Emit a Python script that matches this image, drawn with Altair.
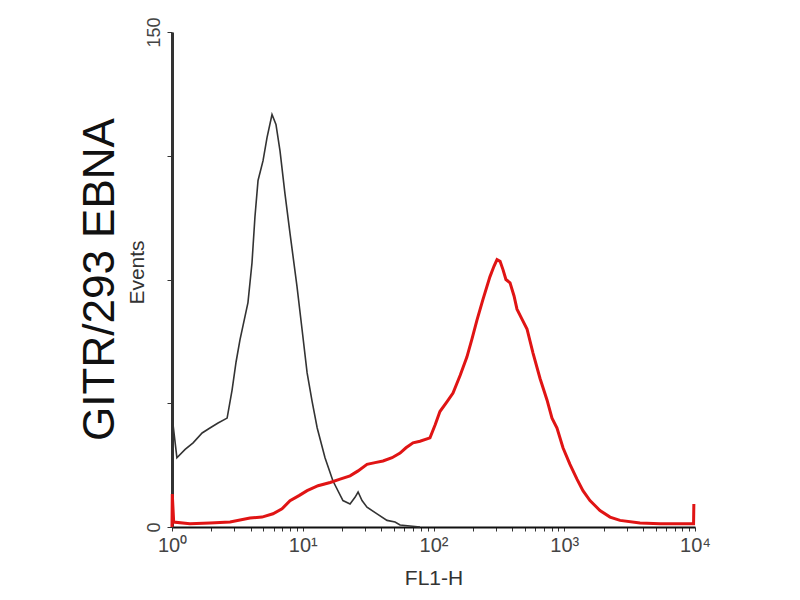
import altair as alt
import pandas as pd

# Black (control) histogram: FL1-H value, events
black_x = [1.0, 1.005, 1.09, 1.26, 1.45, 1.70, 1.95, 2.25, 2.64, 2.88, 3.09, 3.31, 3.81, 4.09,
           4.31, 4.55, 4.97, 5.33, 5.82, 6.24, 6.70, 7.31, 7.99, 9.03, 9.87, 10.8, 11.8, 12.9,
           14.8, 17.0, 20.3, 23.0, 25.1, 26.5, 28.4, 31.0, 37.0, 44.1, 50.8, 55.5, 66.1, 78.8]
black_y = [0, 33, 21, 23.5, 25.5, 28.5, 30, 31.5, 33, 41.5, 50, 56.7, 68, 80,
           94, 105, 111, 118, 125, 122, 114, 101, 89, 73, 60, 46.7, 38, 30,
           21, 14, 8, 7, 9, 10.6, 8, 6, 4, 2, 1.5, 0.6, 0.3, 0]

# Red (GITR stained) histogram
red_x = [1.0, 1.005, 1.03, 1.37, 1.95, 2.78, 3.95, 4.88, 5.92, 6.94, 7.99, 9.36, 10.8, 13.1,
         16.2, 19.3, 23.0, 26.5, 31.0, 35.7, 41.1, 48.2, 55.5, 61.6, 69.7, 78.8, 94.0, 103,
         112, 127, 141, 160, 180, 197, 215, 239, 270, 290, 306, 323, 340, 358, 385, 413, 435,
         475, 519, 577, 653, 738, 806, 880, 978, 1106, 1251, 1390, 1573, 1876, 2240, 2670,
         3795, 5400, 7680, 9750, 9800]
red_y = [0, 10, 1.5, 1.0, 1.2, 1.5, 2.7, 3, 4, 5.5, 8, 9.5, 11, 12.5,
         13.5, 14.5, 15.5, 17, 19, 19.5, 20, 21, 22.4, 24, 25.5, 26, 27, 31,
         35, 38, 40.6, 46, 51.5, 57, 62.7, 69, 75.8, 79, 81, 80.5, 78, 75, 74, 70, 66,
         63, 60, 52.7, 45, 38.5, 33, 30, 24, 19, 14.5, 11, 8, 5, 3, 2,
         1.2, 1, 1, 1, 7]

x_ticks = [1, 2, 3, 4, 5, 6, 7, 8, 9, 10, 20, 30, 40, 50, 60, 70, 80, 90, 100,
           200, 300, 400, 500, 600, 700, 800, 900, 1000, 2000, 3000, 4000, 5000,
           6000, 7000, 8000, 9000, 10000]
y_ticks = [0, 37.5, 75, 112.5, 150]

rows = []
for i, (x, y) in enumerate(zip(black_x, black_y)):
    rows.append({"x": x, "y": y, "series": "control", "order": i})
for i, (x, y) in enumerate(zip(red_x, red_y)):
    rows.append({"x": x, "y": y, "series": "GITR", "order": i})
df = pd.DataFrame(rows)

FONT = "Liberation Sans"

x_label_expr = ("datum.value == 1 ? '10⁰' : datum.value == 10 ? '10¹' : "
                "datum.value == 100 ? '10²' : datum.value == 1000 ? '10³' : "
                "datum.value == 10000 ? '10⁴' : ''")

chart = alt.Chart(df).mark_line(interpolate="linear").encode(
    x=alt.X("x:Q",
            scale=alt.Scale(type="log", domain=[1, 10000], nice=False),
            axis=alt.Axis(values=x_ticks, labelExpr=x_label_expr, title="FL1-H",
                          grid=False, domainColor="#111", domainWidth=2,
                          tickColor="#333", tickSize=4, labelFontSize=20,
                          labelColor="#444", labelFont=FONT, labelPadding=4,
                          titleFont=FONT, titleFontSize=21, titleFontWeight="normal",
                          titleColor="#333", titlePadding=12, labelFlush=False)),
    y=alt.Y("y:Q",
            scale=alt.Scale(domain=[0, 150], nice=False),
            axis=alt.Axis(values=y_ticks,
                          labelExpr="datum.value == 0 || datum.value == 150 ? datum.label : ''",
                          title="Events", grid=False, domainColor="#333", domainWidth=3,
                          tickColor="#333", tickSize=5, labelAngle=270,
                          labelFontSize=18, labelColor="#444", labelFont=FONT,
                          labelPadding=4, titleFont=FONT, titleFontSize=21,
                          titleFontWeight="normal", titleColor="#333",
                          titleX=-29, titleY=240, titleAngle=270,
                          titleAlign="center", titleBaseline="alphabetic",
                          labelFlush=False)),
    color=alt.Color("series:N",
                    scale=alt.Scale(domain=["control", "GITR"], range=["#333333", "#e01414"]),
                    legend=None),
    strokeWidth=alt.StrokeWidth("series:N",
                                scale=alt.Scale(domain=["control", "GITR"], range=[1.6, 3.0]),
                                legend=None),
    order="order:Q",
).properties(
    width=523,
    height=495,
    title=alt.TitleParams("GITR/293 EBNA", orient="left", anchor="middle",
                          fontSize=44, font=FONT, fontWeight="normal",
                          color="#111", offset=3),
    autosize=alt.AutoSizeParams(type="none"),
    padding={"left": 164, "top": 24, "right": 90, "bottom": 62},
).configure_view(stroke=None)

chart.save("out.html", embed_options={"renderer": "svg", "actions": False})
